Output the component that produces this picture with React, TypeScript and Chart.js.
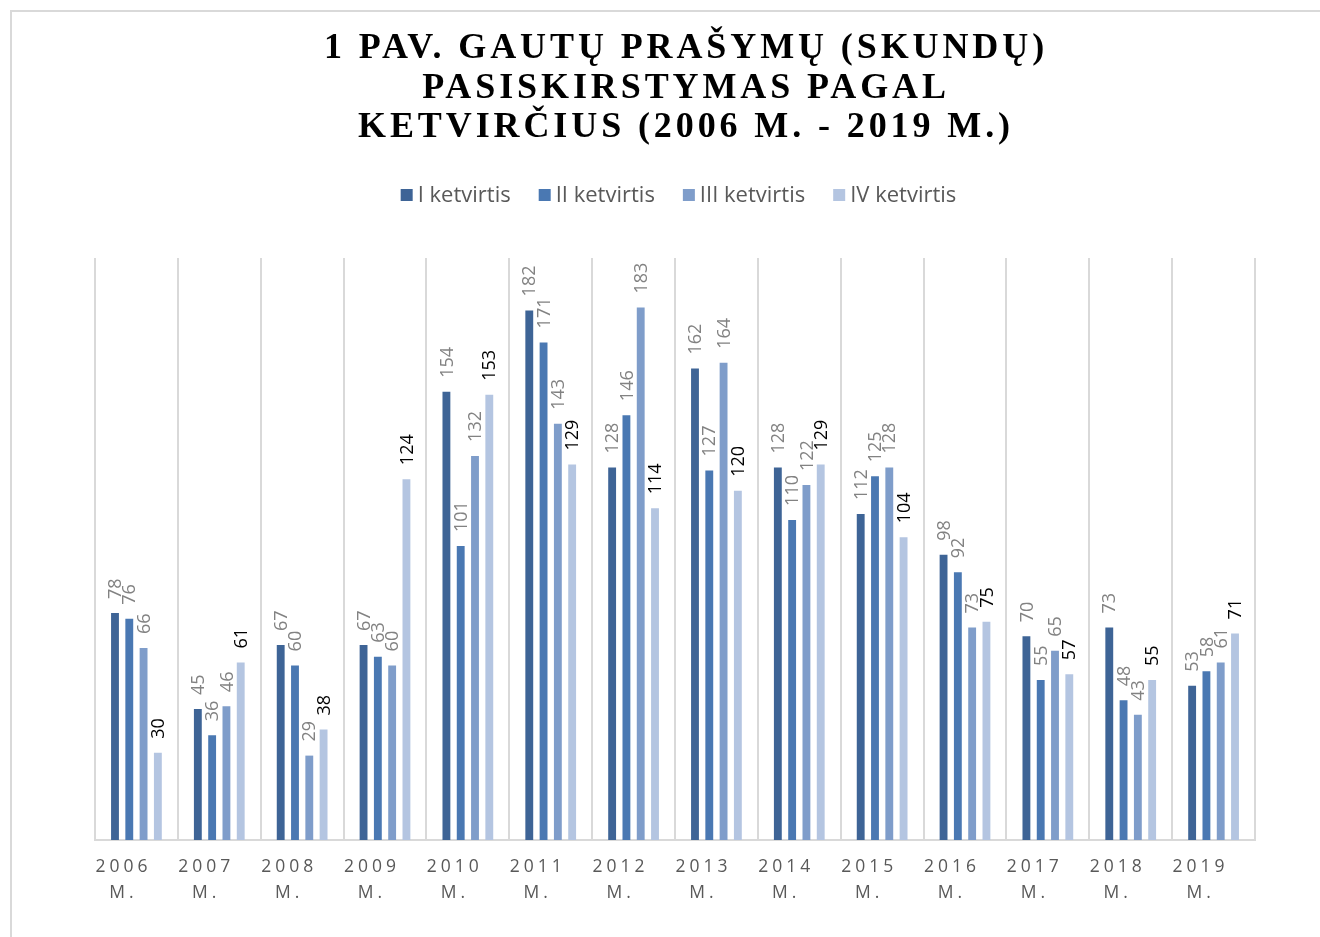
import React, { useEffect, useRef } from 'react';
import { Chart, registerables } from 'chart.js';

Chart.register(...registerables);

// ---- Data ----
const years = ['2006', '2007', '2008', '2009', '2010', '2011', '2012', '2013', '2014', '2015', '2016', '2017', '2018', '2019'];
const categories = years.map((y) => [y, 'M.']);
const seriesNames = ['I ketvirtis', 'II ketvirtis', 'III ketvirtis', 'IV ketvirtis'];
const q1 = [78, 45, 67, 67, 154, 182, 128, 162, 128, 112, 98, 70, 73, 53];
const q2 = [76, 36, 60, 63, 101, 171, 146, 127, 110, 125, 92, 55, 48, 58];
const q3 = [66, 46, 29, 60, 132, 143, 183, 164, 122, 128, 73, 65, 43, 61];
const q4 = [30, 61, 38, 124, 153, 129, 114, 120, 129, 104, 75, 57, 55, 71];
const titleLines = ['1 PAV. GAUTŲ PRAŠYMŲ (SKUNDŲ)', 'PASISKIRSTYMAS PAGAL', 'KETVIRČIUS (2006 M. - 2019 M.)'];

const seriesColors = ['#3e6496', '#4a78b2', '#7f9dca', '#b4c5e1'];
const labelColors = ['#828282', '#828282', '#828282', '#000000'];

const titlePlugin = {
  id: 'customTitle',
  beforeDraw(chart: any) {
    const ctx = chart.ctx;
    ctx.save();
    ctx.font = 'bold 36px "Liberation Serif", "Times New Roman", serif';
    (ctx as any).letterSpacing = '3.9px';
    ctx.fillStyle = '#000000';
    ctx.textAlign = 'center';
    ctx.textBaseline = 'alphabetic';
    titleLines.forEach((t, i) => ctx.fillText(t, 686, 58 + i * 39.5));
    (ctx as any).letterSpacing = '0px';
    ctx.restore();
  },
};

const legendPlugin = {
  id: 'customLegend',
  beforeDraw(chart: any) {
    const ctx = chart.ctx;
    const ds = chart.data.datasets;
    ctx.save();
    ctx.font = '22px "Open Sans"';
    const box = 12;
    const gap = 5;
    const itemGap = 28;
    const widths = ds.map((d: any) => ctx.measureText(d.label).width);
    const total = widths.reduce((a: number, w: number) => a + box + gap + w, 0) + itemGap * (ds.length - 1);
    let x = 678.5 - total / 2;
    const y = 195;
    ds.forEach((d: any, i: number) => {
      ctx.fillStyle = d.backgroundColor;
      ctx.fillRect(x, y - 6, box, box);
      ctx.fillStyle = '#595959';
      ctx.textAlign = 'left';
      ctx.textBaseline = 'middle';
      ctx.fillText(d.label, x + box + gap, y + 1);
      x += box + gap + widths[i] + itemGap;
    });
    ctx.restore();
  },
};

const xLabelPlugin = {
  id: 'xLabelSpacing',
  beforeDraw(chart: any) {
    const s: any = chart.scales.x;
    if (s && !s.__patched) {
      const orig = s.drawLabels.bind(s);
      s.drawLabels = (area: any) => {
        const ctx = chart.ctx;
        ctx.save();
        (ctx as any).letterSpacing = '4px';
        ctx.translate(-13, 0);
        orig(area);
        (ctx as any).letterSpacing = '0px';
        ctx.restore();
      };
      s.__patched = true;
    }
  },
};

const valueLabelPlugin = {
  id: 'valueLabels',
  afterDatasetsDraw(chart: any) {
    const ctx = chart.ctx;
    chart.data.datasets.forEach((ds: any, di: number) => {
      const meta = chart.getDatasetMeta(di);
      meta.data.forEach((el: any, i: number) => {
        ctx.save();
        ctx.translate(el.x + 1, el.y - 14);
        ctx.rotate(-Math.PI / 2);
        ctx.font = '18px "Open Sans"';
        ctx.fillStyle = labelColors[di];
        ctx.textAlign = 'left';
        ctx.textBaseline = 'middle';
        ctx.fillText(String(ds.data[i]), 0, 0);
        ctx.restore();
      });
    });
  },
};

export default function App() {
  const ref = useRef<HTMLCanvasElement | null>(null);

  useEffect(() => {
    if (!ref.current) return;
    const datasets = [q1, q2, q3, q4].map((data, i) => ({
      label: seriesNames[i],
      data,
      backgroundColor: seriesColors[i],
      borderWidth: 0,
      categoryPercentage: 0.69,
      barPercentage: 0.55,
    }));
    const chart = new Chart(ref.current, {
      type: 'bar',
      data: { labels: categories, datasets },
      options: {
        animation: false,
        responsive: false,
        devicePixelRatio: 1,
        layout: { padding: { top: 258, left: 95, right: 65, bottom: 0 } },
        plugins: {
          legend: { display: false },
          title: { display: false },
          tooltip: { enabled: false },
        },
        scales: {
          x: {
            afterFit: (scale: any) => {
              scale.height = 97;
            },
            grid: {
              display: true,
              color: '#d9d9d9',
              lineWidth: 2,
              offset: true,
              drawTicks: false,
              tickLength: 0,
            },
            border: { display: true, color: '#d9d9d9', width: 2 },
            ticks: {
              autoSkip: false,
              maxRotation: 0,
              minRotation: 0,
              padding: 14,
              color: '#595959',
              font: { family: '"Open Sans"', size: 17.5, lineHeight: 26 / 17.5 },
            },
          },
          y: {
            display: false,
            min: 0,
            max: 200,
          },
        },
      },
      plugins: [titlePlugin, legendPlugin, xLabelPlugin, valueLabelPlugin],
    } as any);
    return () => chart.destroy();
  }, []);

  return (
    <div style={{ position: 'fixed', left: 0, top: 0, width: 1320, height: 937, background: '#ffffff', overflow: 'hidden' }}>
      <div
        style={{
          position: 'absolute',
          left: 10,
          top: 10,
          width: 1320,
          height: 937,
          borderTop: '2px solid #d9d9d9',
          borderLeft: '2px solid #d9d9d9',
          boxSizing: 'border-box',
        }}
      />
      <canvas ref={ref} width={1320} height={937} style={{ position: 'absolute', left: 0, top: 0, width: 1320, height: 937 }} />
    </div>
  );
}
